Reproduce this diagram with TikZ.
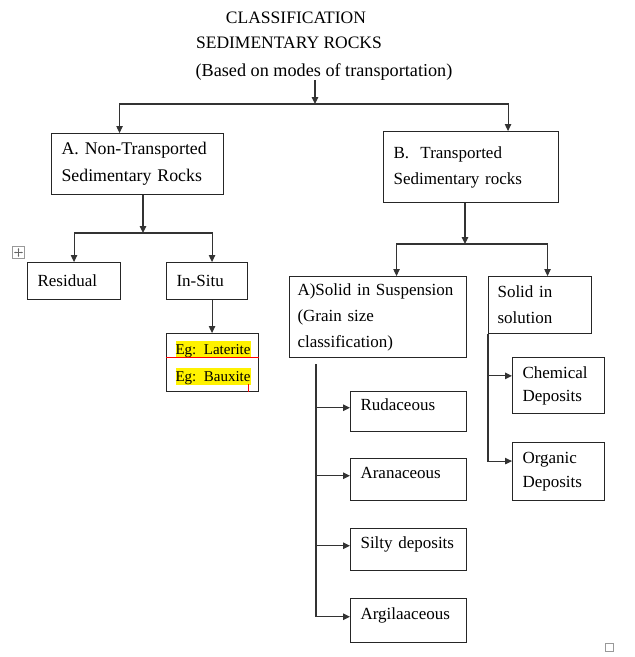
\documentclass[tikz,border=0pt]{standalone}
\usepackage{fontspec}
\setmainfont{Liberation Serif}
\usetikzlibrary{arrows.meta}

\newcommand{\hlbox}[1]{{\fboxsep=0pt\colorbox{yellow}{\rule[-3.5pt]{0pt}{17pt}#1}}}

\begin{document}
\begin{tikzpicture}[x=1pt, y=-1pt,
    box/.style={draw=black!85, line width=1.1pt, anchor=north west, align=left, inner xsep=10pt, inner ysep=3pt, font=\fontsize{17}{26}\selectfont},
    onebox/.style={box, text height=13pt, text depth=3pt},
    lowbox/.style={box, text height=13pt, text depth=16pt},
    title/.style={anchor=base, inner sep=0pt, font=\fontsize{17.5}{20}\selectfont},
    arr/.style={draw=black!80, line width=1.1pt, -{Triangle[length=7pt,width=6.5pt]}},
    handlebox/.style={draw=black!40, line width=0.6pt, inner sep=0pt}]
\useasboundingbox (0,0) rectangle (635,657);

% heading
\node[title] (cls) at (296,23) {CLASSIFICATION};
\node[title] (sed) at (289,48) {SEDIMENTARY ROCKS};
\node[title, font=\fontsize{18.2}{20}\selectfont] (based) at (324,76) {(Based on modes of transportation)};

% first level
\node[box, text width=152pt, minimum height=61pt, font=\fontsize{17.8}{27}\selectfont] (nontr) at (51,133) {A. Non-Transported\\Sedimentary Rocks};
\node[box, text width=155pt, minimum height=71pt] (tr) at (383,131) {B.~ Transported\\Sedimentary rocks};

% non-transported branch
\node[onebox, text width=73pt, minimum height=37pt] (resid) at (27,262) {Residual};
\node[onebox, text width=61pt, minimum height=37pt] (insitu) at (166,262) {In-Situ};
\node[box, inner xsep=9pt, text width=74pt, minimum height=58pt, font=\fontsize{15}{27}\selectfont] (eg) at (166,333) {\hlbox{Eg: Laterite}\\\hlbox{Eg: Bauxite}};

% transported branch
\node[box, inner xsep=8pt, text width=161pt, minimum height=81pt] (susp) at (289,276) {A)Solid in Suspension\\(Grain size\\classification)};
\node[box, inner xsep=9pt, text width=85pt, minimum height=57pt] (soln) at (488,276) {Solid in\\solution};
\node[lowbox, text width=96pt, minimum height=40pt] (rud) at (350,391) {Rudaceous};
\node[lowbox, text width=96pt, minimum height=42pt] (aran) at (350,458) {Aranaceous};
\node[lowbox, text width=96pt, minimum height=42pt] (silt) at (350,528) {Silty deposits};
\node[lowbox, text width=96pt, minimum height=44pt] (argil) at (350,598) {Argilaaceous};
\node[box, text width=72pt, minimum height=56pt, font=\fontsize{17}{23}\selectfont] (chem) at (512,357) {Chemical\\Deposits};
\node[box, text width=72pt, minimum height=58pt, font=\fontsize{17}{24}\selectfont] (organ) at (512,442) {Organic\\Deposits};

% connectors from the heading
\coordinate (j0) at (315,104);
\draw[arr] (based.south -| j0) -- (j0);
\draw[arr] (j0) -| ([xshift=-18pt]nontr.north);
\draw[arr] (j0) -| ([xshift=37pt]tr.north);

% connectors of A
\coordinate (j1) at (143,233);
\draw[arr] (nontr.south -| j1) -- (j1);
\draw[arr] (j1) -| (resid.north);
\draw[arr] (j1) -| ([xshift=5pt]insitu.north);
\coordinate (k1) at ([xshift=5pt]insitu.south);
\draw[arr] (k1) -- (k1 |- eg.north);

% connectors of B
\coordinate (j2) at (465,244);
\draw[arr] (tr.south -| j2) -- (j2);
\draw[arr] (j2) -| ([xshift=18.5pt]susp.north);
\draw[arr] (j2) -| ([xshift=7.5pt]soln.north);

% grain size classes
\coordinate (v1) at ([xshift=27pt,yshift=-6pt]susp.south west);
\draw[arr] (v1) |- (argil.mid west);
\foreach \b in {rud,aran,silt} {
    \draw[arr] (v1 |- \b.mid west) -- (\b.mid west);
}

% solution deposits
\draw[arr] (soln.south west) |- (organ.mid west);
\draw[arr] (soln.south west |- chem.mid west) -- (chem.mid west);

% red marks in the example box
\draw[red, line width=0.8pt] ([yshift=5pt]eg.west) -- ([yshift=5pt]eg.east);
\draw[red, line width=0.8pt] ([xshift=-11pt]eg.south east) -- ++(0,-8);

% editor handles
\node[handlebox, minimum size=12pt] (handle) at (18.5,252.5) {};
\draw[black!60, line width=0.5pt, {Stealth[length=2pt]}-{Stealth[length=2pt]}] ([xshift=-4.5pt]handle.center) -- ([xshift=4.5pt]handle.center);
\draw[black!60, line width=0.5pt, {Stealth[length=2pt]}-{Stealth[length=2pt]}] ([yshift=-4.5pt]handle.center) -- ([yshift=4.5pt]handle.center);
\node[handlebox, minimum size=8pt] (corner) at (609,647.5) {};
\end{tikzpicture}
\end{document}
